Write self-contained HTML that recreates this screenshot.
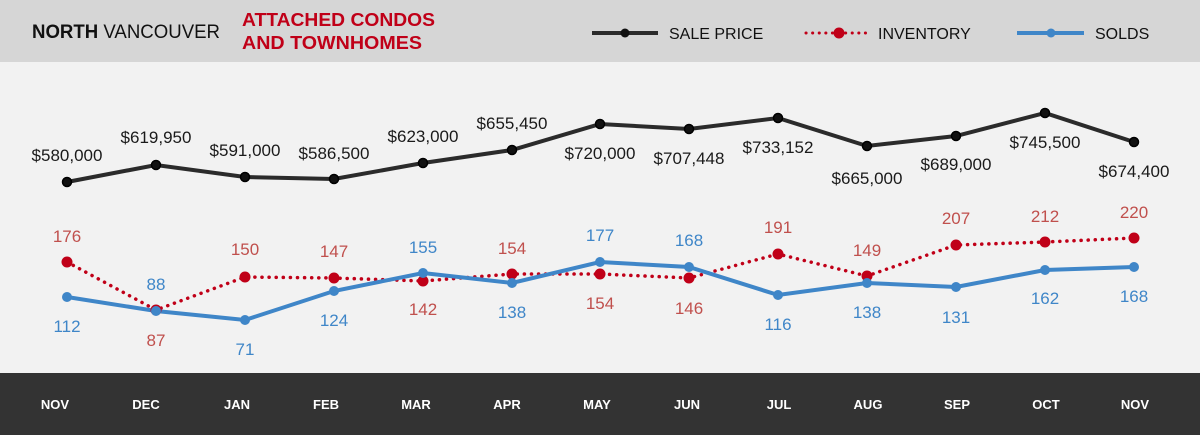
<!DOCTYPE html>
<html><head><meta charset="utf-8"><style>
body{margin:0;width:1200px;height:435px;overflow:hidden;font-family:"Liberation Sans",sans-serif}
</style></head><body>
<svg width="1200" height="435" viewBox="0 0 1200 435" xmlns="http://www.w3.org/2000/svg" font-family="Liberation Sans, sans-serif">
<rect x="0" y="0" width="1200" height="62" fill="#d6d6d6"/>
<rect x="0" y="62" width="1200" height="311" fill="#f2f2f2"/>
<rect x="0" y="373" width="1200" height="62" fill="#333333"/>
<text x="32" y="38" font-size="19" fill="#111" textLength="188" lengthAdjust="spacingAndGlyphs"><tspan font-weight="bold">NORTH</tspan> VANCOUVER</text>
<text x="242" y="26" font-size="18" font-weight="bold" fill="#c00018" textLength="193" lengthAdjust="spacingAndGlyphs">ATTACHED CONDOS</text>
<text x="242" y="49" font-size="18" font-weight="bold" fill="#c00018" textLength="180" lengthAdjust="spacingAndGlyphs">AND TOWNHOMES</text>
<line x1="592" y1="33" x2="658" y2="33" stroke="#2b2b2b" stroke-width="4"/>
<circle cx="625" cy="33" r="4.5" fill="#111"/>
<text x="669" y="39" font-size="16" fill="#111">SALE PRICE</text>
<line x1="806" y1="33" x2="867" y2="33" stroke="#c00018" stroke-width="3" stroke-dasharray="0.1,6.5" stroke-linecap="round"/>
<circle cx="839" cy="33" r="5.5" fill="#c00018"/>
<text x="878" y="39" font-size="16" fill="#111">INVENTORY</text>
<line x1="1017" y1="33" x2="1084" y2="33" stroke="#3f86c8" stroke-width="4"/>
<circle cx="1051" cy="33" r="4.5" fill="#3f86c8"/>
<text x="1095" y="39" font-size="16" fill="#111">SOLDS</text>

<polyline fill="none" stroke="#2b2b2b" stroke-width="4" points="67,182 156,165 245,177 334,179 423,163 512,150 600,124 689,129 778,118 867,146 956,136 1045,113 1134,142"/>
<polyline fill="none" stroke="#c00018" stroke-width="3.5" stroke-dasharray="0.1,7" stroke-linecap="round" points="67,262 156,310 245,277 334,278 423,281 512,274 600,274 689,278 778,254 867,276 956,245 1045,242 1134,238"/>
<polyline fill="none" stroke="#3f86c8" stroke-width="4" points="67,297 156,311 245,320 334,291 423,273 512,283 600,262 689,267 778,295 867,283 956,287 1045,270 1134,267"/>
<g fill="#c00018">
<circle cx="67" cy="262" r="5.5"/><circle cx="156" cy="310" r="5.5"/><circle cx="245" cy="277" r="5.5"/><circle cx="334" cy="278" r="5.5"/><circle cx="423" cy="281" r="5.5"/><circle cx="512" cy="274" r="5.5"/><circle cx="600" cy="274" r="5.5"/><circle cx="689" cy="278" r="5.5"/><circle cx="778" cy="254" r="5.5"/><circle cx="867" cy="276" r="5.5"/><circle cx="956" cy="245" r="5.5"/><circle cx="1045" cy="242" r="5.5"/><circle cx="1134" cy="238" r="5.5"/>
</g>
<g fill="#3f86c8">
<circle cx="67" cy="297" r="5"/><circle cx="156" cy="311" r="5"/><circle cx="245" cy="320" r="5"/><circle cx="334" cy="291" r="5"/><circle cx="423" cy="273" r="5"/><circle cx="512" cy="283" r="5"/><circle cx="600" cy="262" r="5"/><circle cx="689" cy="267" r="5"/><circle cx="778" cy="295" r="5"/><circle cx="867" cy="283" r="5"/><circle cx="956" cy="287" r="5"/><circle cx="1045" cy="270" r="5"/><circle cx="1134" cy="267" r="5"/>
</g>
<g fill="#111" stroke="#000" stroke-width="1.5">
<circle cx="67" cy="182" r="4.5"/><circle cx="156" cy="165" r="4.5"/><circle cx="245" cy="177" r="4.5"/><circle cx="334" cy="179" r="4.5"/><circle cx="423" cy="163" r="4.5"/><circle cx="512" cy="150" r="4.5"/><circle cx="600" cy="124" r="4.5"/><circle cx="689" cy="129" r="4.5"/><circle cx="778" cy="118" r="4.5"/><circle cx="867" cy="146" r="4.5"/><circle cx="956" cy="136" r="4.5"/><circle cx="1045" cy="113" r="4.5"/><circle cx="1134" cy="142" r="4.5"/>
</g>
<g font-size="17" fill="#1a1a1a" text-anchor="middle">
<text x="67" y="161">$580,000</text><text x="156" y="143">$619,950</text><text x="245" y="156">$591,000</text><text x="334" y="159">$586,500</text><text x="423" y="142">$623,000</text><text x="512" y="129">$655,450</text><text x="600" y="159">$720,000</text><text x="689" y="164">$707,448</text><text x="778" y="153">$733,152</text><text x="867" y="184">$665,000</text><text x="956" y="170">$689,000</text><text x="1045" y="148">$745,500</text><text x="1134" y="177">$674,400</text>
</g>
<g font-size="17" fill="#c0504d" text-anchor="middle">
<text x="67" y="242">176</text><text x="156" y="346">87</text><text x="245" y="255">150</text><text x="334" y="257">147</text><text x="423" y="315">142</text><text x="512" y="254">154</text><text x="600" y="309">154</text><text x="689" y="314">146</text><text x="778" y="233">191</text><text x="867" y="256">149</text><text x="956" y="224">207</text><text x="1045" y="222">212</text><text x="1134" y="218">220</text>
</g>
<g font-size="17" fill="#3f86c8" text-anchor="middle">
<text x="67" y="332">112</text><text x="156" y="290">88</text><text x="245" y="355">71</text><text x="334" y="326">124</text><text x="423" y="253">155</text><text x="512" y="318">138</text><text x="600" y="241">177</text><text x="689" y="246">168</text><text x="778" y="330">116</text><text x="867" y="318">138</text><text x="956" y="323">131</text><text x="1045" y="304">162</text><text x="1134" y="302">168</text>
</g>
<g font-size="13" font-weight="bold" fill="#fff" text-anchor="middle">
<text x="55" y="409">NOV</text><text x="146" y="409">DEC</text><text x="237" y="409">JAN</text><text x="326" y="409">FEB</text><text x="416" y="409">MAR</text><text x="507" y="409">APR</text><text x="597" y="409">MAY</text><text x="687" y="409">JUN</text><text x="779" y="409">JUL</text><text x="868" y="409">AUG</text><text x="957" y="409">SEP</text><text x="1046" y="409">OCT</text><text x="1135" y="409">NOV</text>
</g>
</svg>
</body></html>
